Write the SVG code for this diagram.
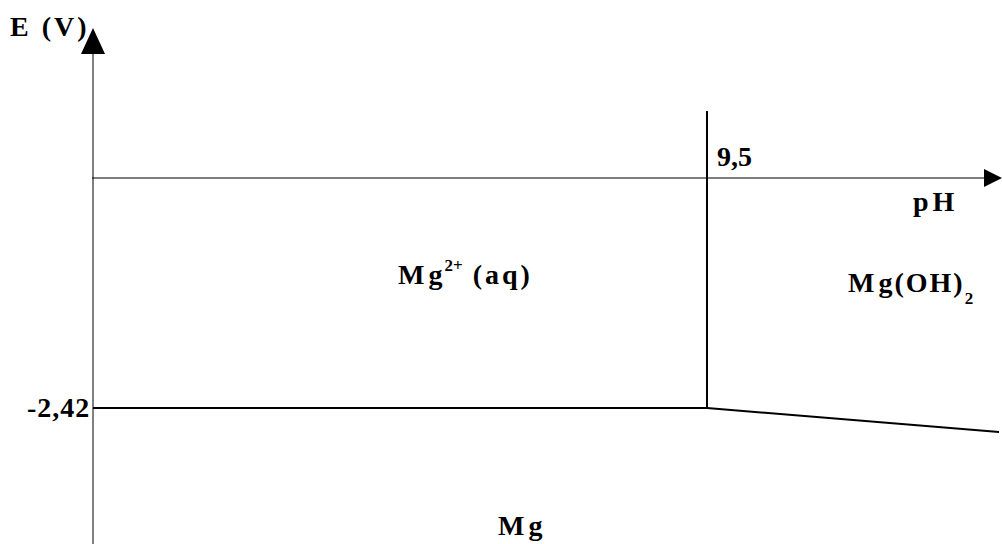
<svg xmlns="http://www.w3.org/2000/svg" width="1002" height="544" viewBox="0 0 1002 544">
<style>
text{font-family:"Liberation Serif","Times New Roman",serif;font-weight:bold;fill:#000;font-size:28px}
.ax{stroke:#000;stroke-width:1;fill:none}
.bd{stroke:#000;stroke-width:2;fill:none}
.sup{font-size:17px}
</style>
<rect width="1002" height="544" fill="#fff"/>
<g id="connectors">
<line class="ax" x1="93" y1="544" x2="93" y2="50"/>
<polygon points="93,28 81,54 105,54" fill="#000"/>
<line class="ax" x1="92" y1="178" x2="988" y2="178"/>
<polygon points="1002,178 984,169 984,187" fill="#000"/>
<line class="bd" x1="707" y1="111" x2="707" y2="409"/>
<line class="bd" x1="93" y1="408" x2="707" y2="408"/>
<line class="bd" x1="707" y1="408" x2="999" y2="432"/>
</g>
<g id="axis-labels">
<text x="10" y="36" font-size="27" letter-spacing="3">E (V)</text>
<text x="717" y="166" font-size="23">9,5</text>
<text x="913" y="211" letter-spacing="4">pH</text>
<text x="27" y="417" font-size="23" letter-spacing="1">-2,42</text>
</g>
<g id="mg2plus"><text x="398" y="284"><tspan letter-spacing="4">M</tspan><tspan>g</tspan><tspan class="sup" dy="-13" dx="2">2+</tspan><tspan dy="13" letter-spacing="3"> (aq)</tspan></text></g>
<g id="mgoh2"><text x="848" y="292" letter-spacing="2"><tspan letter-spacing="4">M</tspan>g(OH)<tspan class="sup" dy="12">2</tspan></text></g>
<g id="mg"><text x="498" y="535" letter-spacing="4">Mg</text></g>
</svg>
